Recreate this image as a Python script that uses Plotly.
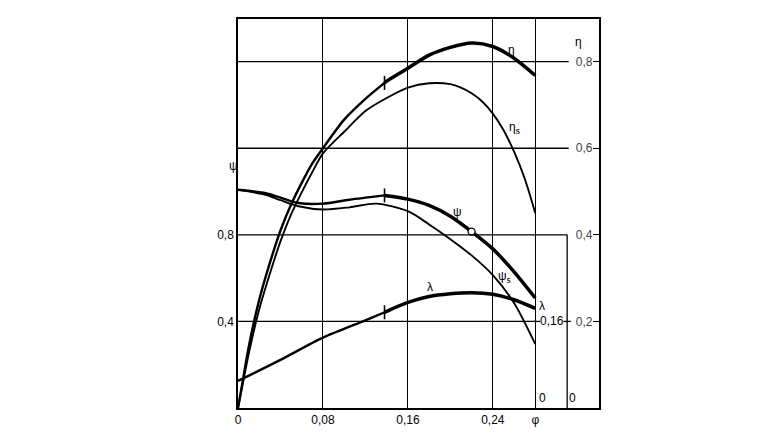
import numpy as np
import plotly.graph_objects as go

# kennlinien (phi auf x); psi links, eta rechts, lambda = 0.4 * psi-skala
eta_phi = [0, 0.005, 0.01, 0.02, 0.03, 0.04, 0.05, 0.06, 0.07, 0.08, 0.10, 0.12,
           0.14, 0.16, 0.18, 0.20, 0.22, 0.24, 0.26, 0.28]
eta = [0, 0.07, 0.14, 0.25, 0.335, 0.41, 0.47, 0.52, 0.565, 0.60, 0.666, 0.714,
       0.755, 0.785, 0.815, 0.833, 0.843, 0.835, 0.808, 0.768]

eta_s_phi = [0, 0.005, 0.01, 0.02, 0.03, 0.04, 0.05, 0.06, 0.07, 0.08, 0.10, 0.12,
             0.14, 0.16, 0.18, 0.20, 0.21, 0.22, 0.23, 0.24, 0.25, 0.26, 0.27, 0.28]
eta_s = [0, 0.062, 0.124, 0.228, 0.31, 0.385, 0.447, 0.498, 0.545, 0.588, 0.638, 0.686,
         0.716, 0.74, 0.75, 0.748, 0.74, 0.727, 0.708, 0.68, 0.642, 0.592, 0.53, 0.45]

psi_phi = [0, 0.026, 0.04, 0.057, 0.08, 0.105, 0.138, 0.16, 0.18, 0.20, 0.22, 0.24, 0.26, 0.28]
psi = [1.008, 0.992, 0.972, 0.947, 0.944, 0.962, 0.982, 0.965, 0.936, 0.886, 0.815, 0.735, 0.629, 0.508]

psi_s_phi = [0, 0.026, 0.04, 0.057, 0.08, 0.105, 0.13, 0.16, 0.18, 0.20, 0.22, 0.24, 0.26, 0.28]
psi_s = [1.008, 0.985, 0.96, 0.932, 0.917, 0.927, 0.944, 0.909, 0.848, 0.78, 0.705, 0.614, 0.485, 0.295]

lam_phi = [0, 0.04, 0.08, 0.12, 0.137, 0.16, 0.18, 0.20, 0.22, 0.24, 0.26, 0.28]
lam = [0.05, 0.089, 0.130, 0.162, 0.176, 0.195, 0.206, 0.211, 0.213, 0.21, 0.2, 0.184]

phi_ticks = [0, 0.08, 0.16, 0.24, 0.28]
phi_labels = ["0", "0,08", "0,16", "0,24", "φ"]
psi_ticks = [0.4, 0.8]
psi_labels = ["0,4", "0,8"]
eta_ticks = [0.2, 0.4, 0.6, 0.8]
eta_labels = ["0,2", "0,4", "0,6", "0,8"]

PHI_T = 0.138      # markierung betriebsbereich
PHI_O = 0.22       # kreis auf psi
YTOP = 1.797
FONT = "Liberation Sans, Arial, sans-serif"


def split(x, y, t):
    x = np.array(x); y = np.array(y)
    yt = np.interp(t, x, y)
    a = x < t
    return (np.append(x[a], t), np.append(y[a], yt)), (np.insert(x[~a], 0, t), np.insert(y[~a], 0, yt))


fig = go.Figure()


def linie(x, y, ax, w):
    fig.add_trace(go.Scatter(x=x, y=y, yaxis=ax, mode="lines", showlegend=False,
                             line=dict(color="black", width=w, shape="spline", smoothing=0.8)))


for x, y, ax in [(eta_phi, eta, "y2"), (psi_phi, psi, "y"), (lam_phi, lam, "y3")]:
    (x1, y1), (x2, y2) = split(x, y, PHI_T)
    linie(x1, y1, ax, 2.4)
    linie(x2, y2, ax, 3.5)
    fig.add_trace(go.Scatter(x=[PHI_T], y=[np.interp(PHI_T, x, y)], yaxis=ax, mode="markers",
                             showlegend=False,
                             marker=dict(symbol="line-ns", size=10, line=dict(color="black", width=1.6))))

linie(eta_s_phi, eta_s, "y2", 1.9)
linie(psi_s_phi, psi_s, "y", 1.9)

fig.add_trace(go.Scatter(x=[PHI_O], y=[np.interp(PHI_O, psi_phi, psi)], mode="markers", showlegend=False,
                         marker=dict(symbol="circle", size=7, color="white",
                                     line=dict(color="black", width=1.3))))

# waagerechte linien + lambda-achse
lk = dict(color="black", width=1.3)
for v, x1 in [(0.4, 0.28), (0.8, 0.31), (1.2, 0.3115), (1.6, 0.3115)]:
    fig.add_shape(type="line", xref="x", yref="y", x0=0, x1=x1, y0=v, y1=v, line=lk)
fig.add_shape(type="line", xref="x", yref="y", x0=0.28, x1=0.2845, y0=0.4, y1=0.4, line=lk)
fig.add_shape(type="line", xref="x", yref="y", x0=0.3065, x1=0.3135, y0=0.4, y1=0.4, line=lk)
fig.add_shape(type="line", xref="x", yref="y", x0=0.31, x1=0.31, y0=0, y1=0.8, line=lk)

txt = [
    (0.2576, 1.653, "η"), (0.2607, 1.294, "η<sub>s</sub>"), (0.207, 0.905, "ψ"),
    (0.2513, 0.603, "ψ<sub>s</sub>"), (0.1807, 0.558, "λ"), (0.2865, 0.471, "λ"),
    (0.2955, 0.402, "0,16"), (0.2865, 0.046, "0"), (0.3155, 0.046, "0"),
    (0.3205, 1.69, "η"),
]
for x, y, t in txt:
    fig.add_annotation(x=x, y=y, xref="x", yref="y", text=t, showarrow=False,
                       font=dict(family=FONT, size=12, color="black"))
fig.add_annotation(x=-0.03, y=1.12, xref="paper", yref="y", text="ψ", showarrow=False,
                   font=dict(family=FONT, size=12, color="black"))

# seite hat 8px body-rand -> figur entsprechend kleiner
fig.update_layout(
    width=764, height=428,
    margin=dict(l=230, r=173, t=9, b=26),
    paper_bgcolor="white", plot_bgcolor="white",
    font=dict(family=FONT, size=12, color="black"),
    xaxis=dict(range=[0, 0.34], tickvals=phi_ticks, ticktext=phi_labels, ticks="",
               showgrid=True, gridcolor="black", gridwidth=1.3, zeroline=False,
               showline=True, mirror=True, linecolor="black", linewidth=1.5),
    yaxis=dict(range=[0, YTOP], tickvals=psi_ticks, ticktext=psi_labels, ticks="",
               showgrid=False, zeroline=False,
               showline=True, mirror=True, linecolor="black", linewidth=1.5),
    yaxis2=dict(range=[0, YTOP / 2], overlaying="y", side="right", anchor="x",
                tickvals=eta_ticks, ticktext=eta_labels, ticks="inside", ticklen=6,
                tickcolor="black", ticklabelposition="inside",
                showgrid=False, zeroline=False, showline=False),
    yaxis3=dict(range=[0, YTOP * 0.4], overlaying="y", visible=False),
)

fig.write_html("out.html")
